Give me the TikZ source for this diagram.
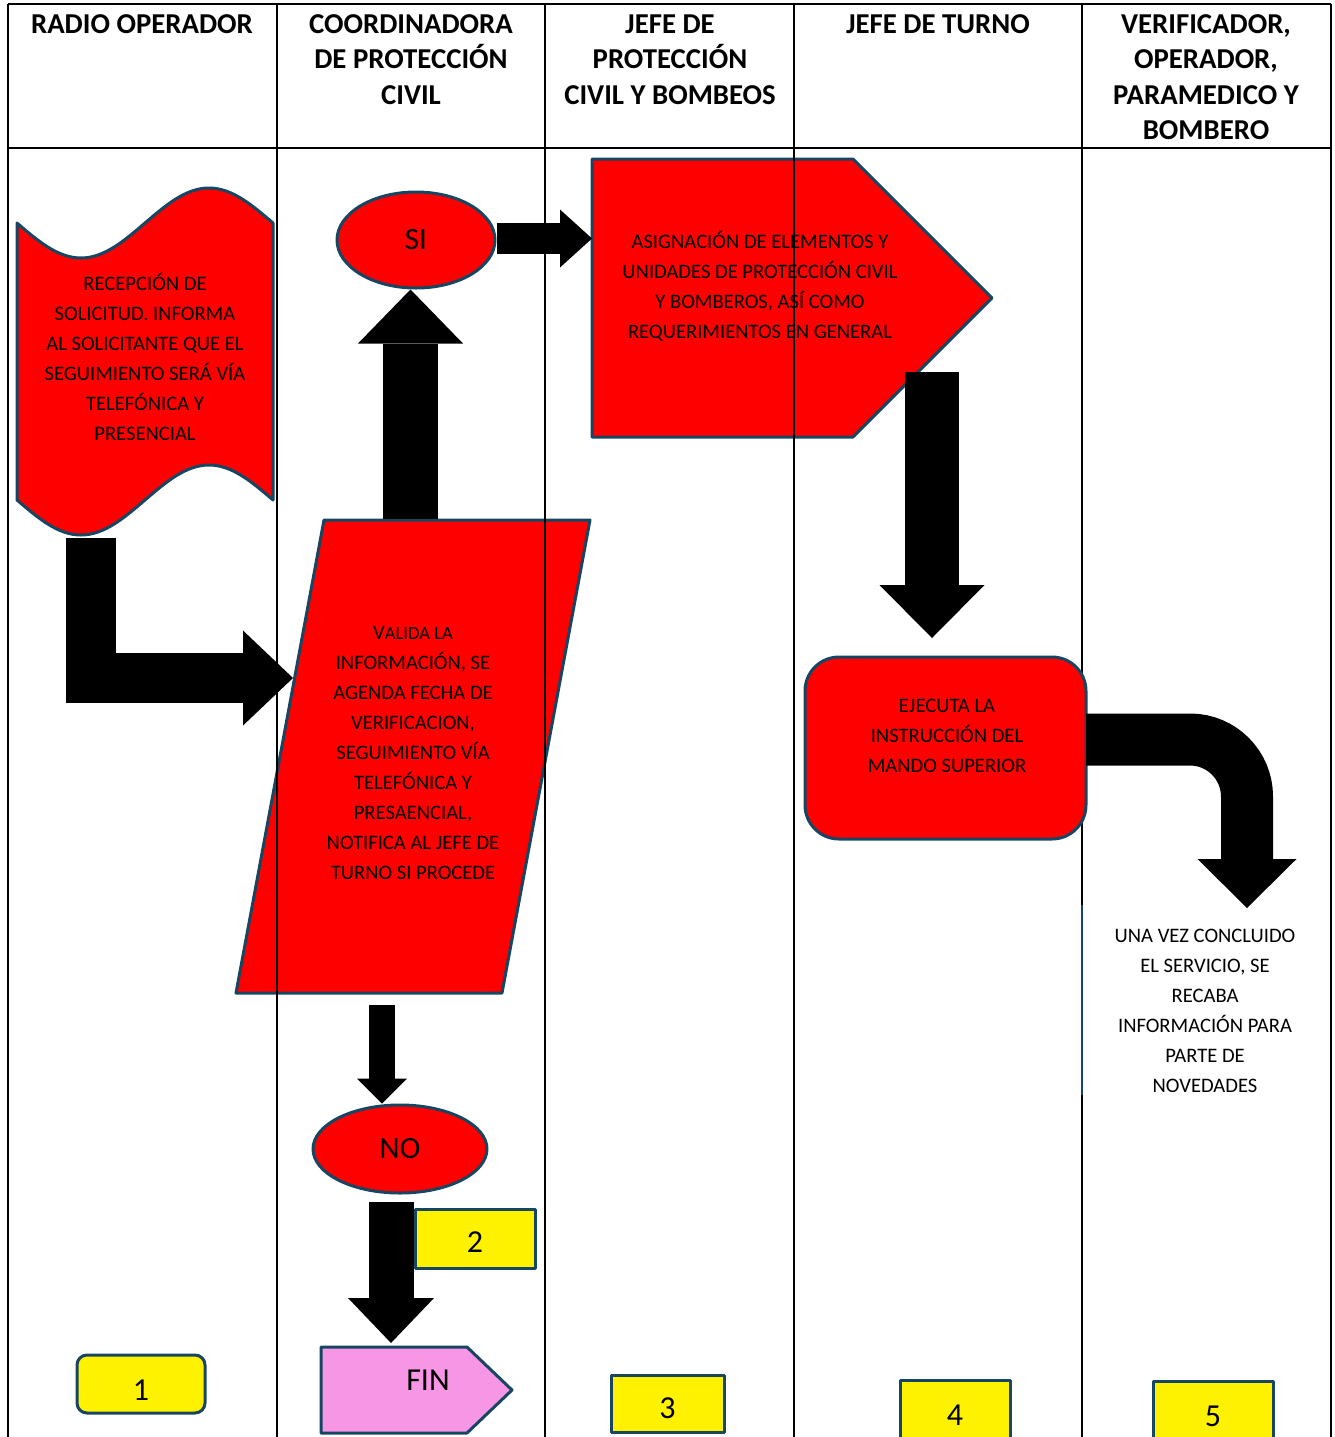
\documentclass[tikz,border=0pt]{standalone}
\usepackage{fontspec}
\setmainfont{Carlito}
\usetikzlibrary{arrows.meta}
\usetikzlibrary{shapes.geometric}

\definecolor{edgeblue}{RGB}{23,70,98}
\definecolor{finpink}{RGB}{248,150,230}

\tikzset{
  shapeline/.style={draw=edgeblue, line width=1.5pt, line join=round},
  redshape/.style={shapeline, fill=red},
  lanehead/.style={font=\bfseries\fontsize{14.4}{17.75}\selectfont, align=center, inner sep=0pt},
  boxtext/.style={font=\fontsize{10.3}{15}\selectfont, align=center, inner sep=0pt},
  bigtext/.style={font=\fontsize{16}{18}\selectfont},
  numbox/.style={shapeline, fill=yellow, bigtext},
  laneline/.style={line width=1pt},
  fatarrow/.style n args={3}{line width=#1, -{Triangle[width=#2, length=#3, line width=0pt]}}
}

\begin{document}
\begin{tikzpicture}[x=0.5pt, y=-0.5pt]
  \useasboundingbox (0,0) rectangle (1335,1437);

  % table lines under the shapes
  \draw[line width=1.25pt] (8,4) -- (1331,4);
  \draw[laneline] (8,148) -- (1331,148);
  \draw[laneline] (8,4) -- (8,1440);
  \draw[laneline] (1331,4) -- (1331,1440);
  \draw[laneline] (1082,4) -- (1082,1440);
  \draw[laneline, edgeblue] (1082,905) -- (1082,1095);

  % lane titles
  \node[lanehead] (radio) at (142,24) {RADIO OPERADOR};
  \node[lanehead] (coord) at (411,59.5) {COORDINADORA\\DE PROTECCIÓN\\CIVIL};
  \node[lanehead] (jefepc) at (670,59.5) {JEFE DE\\PROTECCIÓN\\CIVIL Y BOMBEOS};
  \node[lanehead] (jefet) at (938,24) {JEFE DE TURNO};
  \node[lanehead] (verif) at (1206,77) {VERIFICADOR,\\OPERADOR,\\PARAMEDICO Y\\BOMBERO};

  % reception (wavy tape)
  \draw[redshape] (17,223) sin (81,258) cos (145,223) sin (209,188) cos (273,223)
    -- (273,500) sin (209,465) cos (145,500) sin (81,535) cos (17,500) -- cycle;
  \node[boxtext] (recep) at (145,357) {RECEPCIÓN DE\\SOLICITUD. INFORMA\\AL SOLICITANTE QUE EL\\SEGUIMIENTO SERÁ VÍA\\TELEFÓNICA Y\\PRESENCIAL};
  \coordinate (recepout) at (91,538);

  % validation (parallelogram)
  \draw[redshape] (324,520) -- (590,520) -- (502,993) -- (236,993) -- cycle;
  \node[boxtext] (valida) at (413,753) {V{\fontsize{9.3}{15}\selectfont ALIDA LA}\\INFORMACIÓN, SE\\AGENDA FECHA DE\\VERIFICACION,\\SEGUIMIENTO VÍA\\TELEFÓNICA Y\\PRESAENCIAL,\\NOTIFICA AL JEFE DE\\TURNO SI PROCEDE};
  \coordinate (validain) at (293,678);
  \coordinate (validaup) at (410.5,519);
  \coordinate (validadown) at (382,1005);

  % yes / no
  \node[redshape, ellipse, minimum width=79pt, minimum height=48pt, font=\fontsize{15.5}{18}\selectfont] (si) at (416,240) {SI};
  \node[redshape, ellipse, minimum width=87pt, minimum height=44pt, font=\fontsize{15.5}{18}\selectfont] (no) at (400,1149) {NO};
  \coordinate (nodown) at (391,1202);

  % assignment (pentagon)
  \draw[redshape] (592,159) -- (853,159) -- (992,298) -- (853,437) -- (592,437) -- cycle;
  \node[boxtext] (asig) at (760,286) {ASIGNACIÓN DE ELEMENTOS Y\\UNIDADES DE PROTECCIÓN CIVIL\\Y BOMBEROS, ASÍ COMO\\REQUERIMIENTOS EN GENERAL};
  \coordinate (asigin) at (592,238.5);
  \coordinate (asigout) at (932,372);

  % execution
  \node[redshape, rounded corners=17pt, minimum width=140.5pt, minimum height=91pt] (ejec) at (945.5,748) {};
  \node[boxtext] (ejectxt) at (947,735.5) {EJECUTA LA\\INSTRUCCIÓN DEL\\MANDO SUPERIOR};
  \coordinate (ejecin) at (932,638);
  \coordinate (ejecout) at (1086,739.5);

  % closing note
  \node[boxtext] (parte) at (1205,1010.5) {UNA VEZ CONCLUIDO\\EL SERVICIO, SE\\RECABA\\INFORMACIÓN PARA\\PARTE DE\\NOVEDADES};
  \coordinate (partein) at (1247,908);

  % end
  \draw[shapeline, fill=finpink] (321,1347) -- (467,1347) -- (512,1390) -- (467,1433) -- (321,1433) -- cycle;
  \node[bigtext] (fin) at (428,1380) {FIN};
  \coordinate (finin) at (391,1343);

  % step numbers
  \node[numbox, rounded corners=5pt, minimum width=64pt, minimum height=29pt, text height=16pt, text depth=0pt] (n1) at (141,1384) {1};
  \node[numbox, minimum width=60pt, minimum height=29.5pt, text height=13.6pt, text depth=0pt] (n2) at (475,1238.5) {2};
  \node[numbox, minimum width=56.5pt, minimum height=28.5pt, text height=15.1pt, text depth=0pt] (n3) at (667.5,1403.5) {3};
  \node[numbox, minimum width=55pt, minimum height=35pt] (n4) at (955,1415.5) {4};
  \node[numbox, minimum width=60pt, minimum height=35pt] (n5) at (1213,1416) {5};

  % block arrows
  \draw[fatarrow={25pt}{47.5pt}{25pt}] (recepout) |- (validain);
  \draw[fatarrow={27.5pt}{52.5pt}{27pt}] (validaup) -- (validaup |- si.south);
  \draw[fatarrow={15.5pt}{29pt}{16pt}] (asigin -| si.east) -- (asigin);
  \draw[fatarrow={27pt}{52.5pt}{26.5pt}] (asigout) -- (ejecin);
  \draw[fatarrow={13pt}{25pt}{12.5pt}] (validadown) -- (validadown |- no.north);
  \draw[fatarrow={22.5pt}{43pt}{22.5pt}] (nodown) -- (finin);
  \draw[fatarrow={26pt}{49.5pt}{24.5pt}, rounded corners=28.5pt] (ejecout) -| (partein);

  % lane lines over the shapes
  \draw[laneline] (277,4) -- (277,1440);
  \draw[laneline] (545,4) -- (545,1440);
  \draw[laneline] (794,4) -- (794,1440);
\end{tikzpicture}
\end{document}
